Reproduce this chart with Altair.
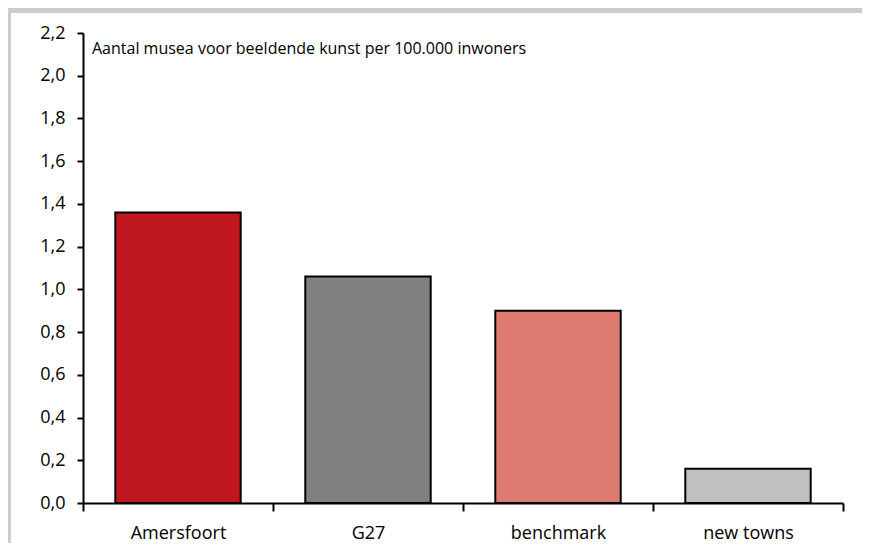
import altair as alt
import pandas as pd

categories = ["Amersfoort", "G27", "benchmark", "new towns"]
values = [1.36, 1.06, 0.90, 0.16]
colors = ["#C0161F", "#808080", "#DE7B70", "#C0C0C0"]
y_ticks = [0.0, 0.2, 0.4, 0.6, 0.8, 1.0, 1.2, 1.4, 1.6, 1.8, 2.0, 2.2]
note = "Aantal musea voor beeldende kunst per 100.000 inwoners"

df = pd.DataFrame({"cat": categories, "val": values})
FONT = "Open Sans"
W, H = 760, 470

frame = alt.Chart(pd.DataFrame({"a": [0]})).mark_rect(color="white", clip=False).encode(
    x=alt.value(-72), x2=alt.value(W + 40), y=alt.value(-20), y2=alt.value(H + 50)
)

bars = alt.Chart(df).mark_bar(stroke="black", strokeWidth=2, width=alt.RelativeBandSize(0.66)).encode(
    x=alt.X("cat:N", sort=categories,
            scale=alt.Scale(paddingInner=0, paddingOuter=0),
            axis=alt.Axis(title=None, labelAngle=0, tickBand="extent", labelFont=FONT,
                          labelFontSize=18, labelColor="black", labelPadding=13,
                          domainColor="black", domainWidth=2, tickColor="black",
                          tickWidth=2, tickSize=8, zindex=2)),
    y=alt.Y("val:Q", scale=alt.Scale(domain=[0, 2.2], nice=False),
            axis=alt.Axis(title=None, values=y_ticks, grid=False,
                          labelExpr="replace(format(datum.value, '.1f'), '.', ',')",
                          labelFont=FONT, labelFontSize=18, labelColor="black",
                          labelPadding=12, domainColor="black", domainWidth=2,
                          tickColor="black", tickWidth=2, tickSize=6, zindex=2)),
    color=alt.Color("cat:N", sort=categories,
                    scale=alt.Scale(domain=categories, range=colors), legend=None),
)

text = alt.Chart(pd.DataFrame({"t": [note]})).mark_text(
    align="left", baseline="middle", font=FONT, fontSize=16, color="black"
).encode(text="t:N", x=alt.value(9), y=alt.value(16))

chart = alt.layer(frame, bars, text).properties(
    width=W, height=H,
    autosize=alt.AutoSizeParams(type="none"),
    padding={"left": 75, "top": 25, "right": 19, "bottom": 40},
    background="#CCCCCC",
).configure_view(stroke=None)

chart.save("out.html", embed_options={"renderer": "svg", "actions": False})
